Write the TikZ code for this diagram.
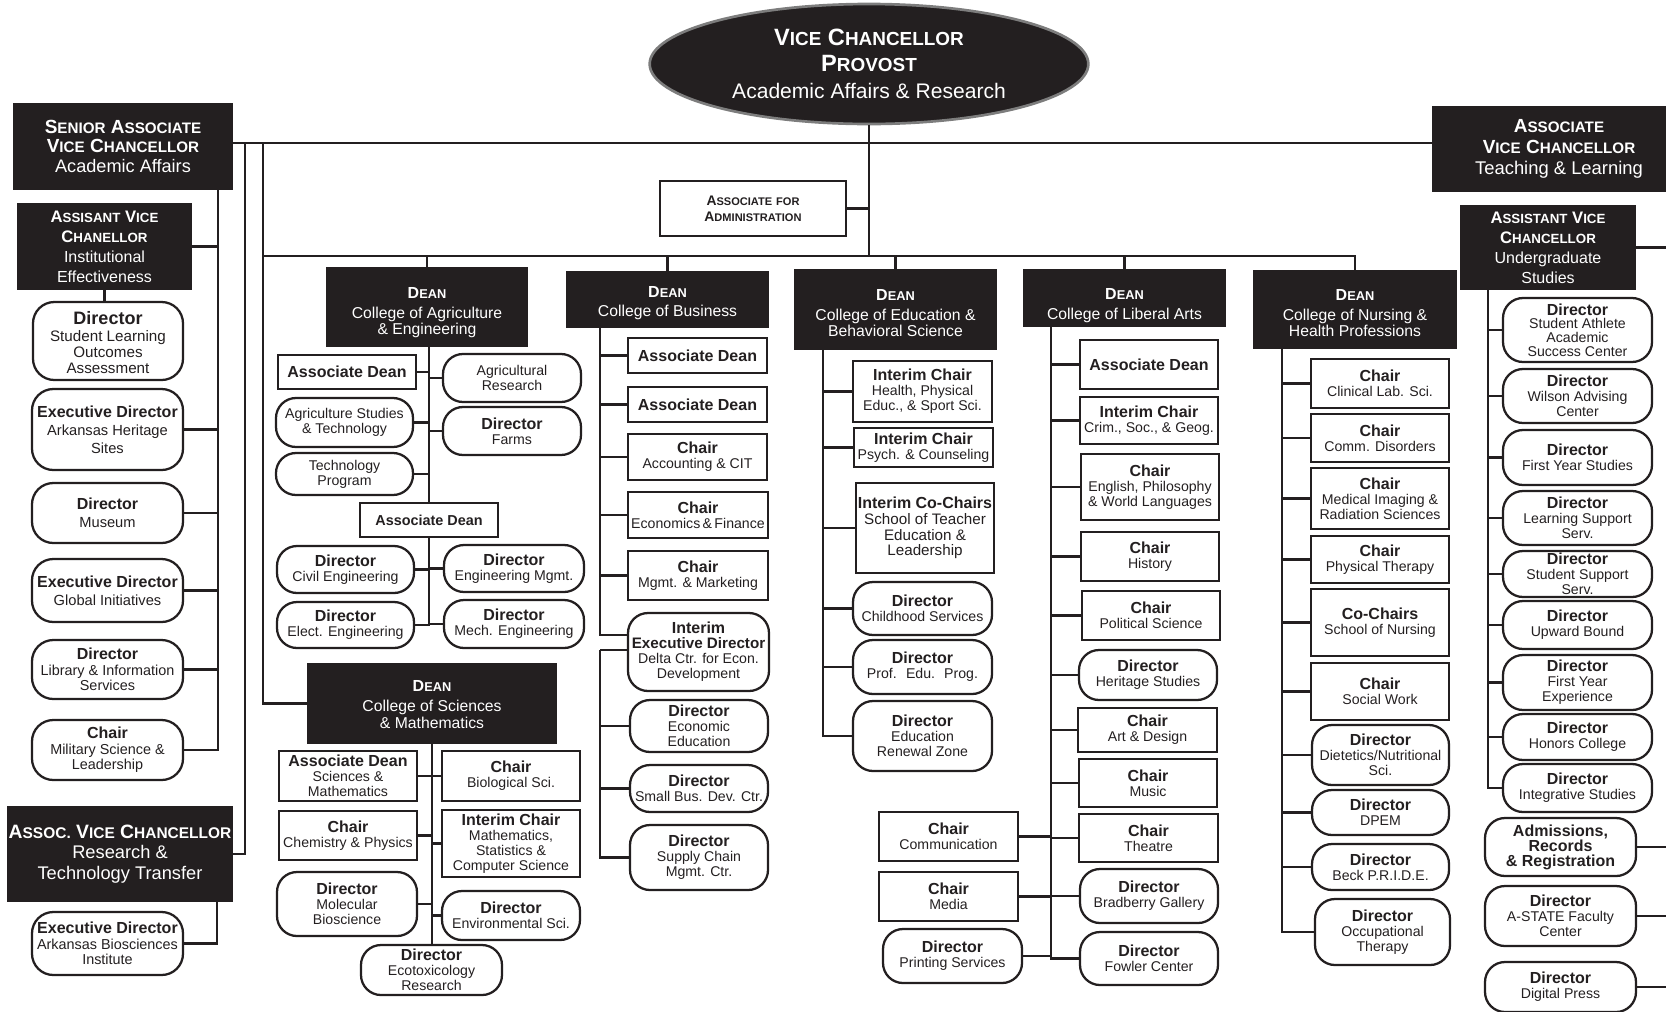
\documentclass[tikz,border=0pt]{standalone}
\usepackage{fontspec}
\setmainfont{Liberation Sans}
\usetikzlibrary{shapes.geometric,calc}
\definecolor{hdr}{RGB}{35,31,32}
\definecolor{rim}{RGB}{125,125,125}
\newcommand\SC[2]{#1{\fontsize{\scs}{\scs}\selectfont #2}}
\newcommand\hdrb[3]{{\bfseries\fontsize{#1}{#1}\selectfont\def\scs{#2}#3}}
\newcommand\ttl[1]{{\fontsize{12}{11.3}\selectfont\bfseries #1}}
\newcommand\deanl[1]{\rule{0pt}{#1pt}\hdrb{12}{9.6}{\SC{D}{EAN}}}
\newcommand\obox[7]{\pgfmathsetmacro\bxw{(#5-#3)*0.75}\pgfmathsetmacro\bxh{(#6-#4)*0.75}%
  \node[#1,minimum width=\bxw pt,minimum height=\bxh pt] (#2) at ({(#3+#5)/2},{(#4+#6)/2}) {#7};}
\tikzset{
  base/.style={draw=hdr, line width=1.7pt, align=center, inner sep=1pt, text=hdr, font=\fontsize{10.6}{11.3}\selectfont},
  rbox/.style={base, rounded corners=15pt},
  sbox/.style={base},
  lbox/.style={base, rounded corners=16pt, font=\fontsize{11}{13.5}\selectfont},
  hbox/.style={fill=hdr, draw=none, text=white, align=center, inner sep=1pt},
  dean/.style={hbox, font=\fontsize{11.8}{12.6}\selectfont},
  conn/.style={draw=hdr, line width=1.6pt},
}
\begin{document}
\begin{tikzpicture}[x=0.75pt,y=-0.75pt]
\useasboundingbox (0,0) rectangle (1666,1011);
% ---------- top ----------
\node[ellipse, fill=hdr, draw=rim, line width=2pt, minimum width=329pt, minimum height=90pt,
      text=white, align=center, inner sep=0pt, font=\fontsize{15.8}{19}\selectfont] (vc) at (869,64)
  {\hdrb{17.7}{14.2}{\SC{V}{ICE} \SC{C}{HANCELLOR}}\\\hdrb{17.7}{14.2}{\SC{P}{ROVOST}}\\[1.5pt]Academic Affairs \& Research};
\obox{sbox,line width=1.2pt}{adm}{660}{181}{846}{236}{\hdrb{10.4}{8.3}{\SC{A}{SSOCIATE} \SC{}{FOR}}\\[1pt]\hdrb{10.4}{8.3}{\SC{A}{DMINISTRATION}}}
% ---------- left column ----------
\obox{hbox,font=\fontsize{13.6}{14.3}\selectfont}{senior}{13}{103}{233}{190}{\hdrb{14.25}{11.4}{\SC{S}{ENIOR} \SC{A}{SSOCIATE}}\\\hdrb{14.25}{11.4}{\SC{V}{ICE} \SC{C}{HANCELLOR}}\\[1pt]Academic Affairs}
\obox{hbox,font=\fontsize{12}{15}\selectfont}{asst}{17}{203}{192}{290}{\hdrb{12.5}{10}{\SC{A}{SSISANT} \SC{V}{ICE}}\\\hdrb{12.5}{10}{\SC{C}{HANELLOR}}\\Institutional\\Effectiveness}
\obox{lbox,font=\fontsize{11.4}{12}\selectfont}{slo}{33}{302}{183}{380}{\rule{0pt}{12pt}{\fontsize{13.5}{12}\selectfont\bfseries Director}\\[1pt]Student Learning\\Outcomes\\Assessment}
\obox{lbox}{heritage}{32}{389}{183}{470}{\ttl{Executive Director}\\Arkansas Heritage\\Sites}
\obox{lbox}{museum}{32}{483}{183}{543}{\ttl{Director}\\Museum}
\obox{lbox}{global}{32}{559}{183}{622}{\ttl{Executive Director}\\Global Initiatives}
\obox{lbox,font=\fontsize{10.8}{11.5}\selectfont}{library}{32}{640}{183}{699}{\ttl{Director}\\Library \& Information\\Services}
\obox{lbox,font=\fontsize{10.8}{11.5}\selectfont}{military}{32}{720}{183}{780}{\ttl{Chair}\\Military Science \&\\Leadership}
\obox{hbox,font=\fontsize{13.7}{15.5}\selectfont}{arvc}{7}{806}{233}{902}{\hdrb{14.5}{11.6}{\SC{A}{SSOC.} \SC{V}{ICE} \SC{C}{HANCELLOR}}\\Research \&\\Technology Transfer}
\obox{lbox,font=\fontsize{10.8}{11.8}\selectfont}{abi}{32}{912}{183}{975}{\ttl{Executive Director}\\Arkansas Biosciences\\Institute}
% ---------- Agriculture ----------
\obox{dean}{ag}{326}{267}{528}{347}{\deanl{17}\\[2pt]College of Agriculture\\\& Engineering}
\obox{sbox}{agad1}{278}{355}{416}{389}{\ttl{Associate Dean}}
\obox{rbox}{agres}{443}{354}{581}{402}{Agricultural\\Research}
\obox{rbox}{agst}{276}{398}{413}{447}{Agriculture Studies\\\& Technology}
\obox{rbox}{farms}{443}{407}{581}{455}{\ttl{Director}\\Farms}
\obox{rbox}{techp}{276}{453}{413}{495}{Technology\\Program}
\obox{sbox}{agad2}{360}{503}{498}{537}{{\bfseries\fontsize{10.8}{11}\selectfont Associate Dean}}
\obox{rbox}{civil}{277}{546}{414}{593}{\ttl{Director}\\Civil Engineering}
\obox{rbox}{engm}{444}{545}{584}{592}{\ttl{Director}\\Engineering Mgmt.}
\obox{rbox}{elect}{277}{602}{414}{648}{\ttl{Director}\\Elect. Engineering}
\obox{rbox}{mech}{444}{600}{584}{648}{\ttl{Director}\\Mech. Engineering}
% ---------- Sciences ----------
\obox{dean}{sci}{307}{663}{557}{744}{\deanl{10}\\[2pt]College of Sciences\\\& Mathematics}
\obox{sbox}{sciad}{279}{751}{417}{801}{\ttl{Associate Dean}\\Sciences \&\\Mathematics}
\obox{sbox}{bio}{442}{751}{580}{801}{\ttl{Chair}\\Biological Sci.}
\obox{sbox}{chem}{279}{811}{417}{860}{\ttl{Chair}\\Chemistry \& Physics}
\obox{sbox}{math}{442}{810}{580}{877}{\ttl{Interim Chair}\\Mathematics,\\Statistics \&\\Computer Science}
\obox{rbox}{molec}{277}{872}{417}{936}{\ttl{Director}\\Molecular\\Bioscience}
\obox{rbox}{envir}{442}{891}{580}{940}{\ttl{Director}\\Environmental Sci.}
\obox{rbox}{ecotox}{361}{945}{502}{995}{\ttl{Director}\\Ecotoxicology\\Research}
% ---------- Business ----------
\obox{dean}{bus}{566}{271}{769}{328}{\deanl{14}\\[2pt]College of Business}
\obox{sbox}{bad1}{628}{338}{767}{373}{\ttl{Associate Dean}}
\obox{sbox}{bad2}{628}{387}{767}{422}{\ttl{Associate Dean}}
\obox{sbox}{acct}{628}{434}{767}{480}{\ttl{Chair}\\Accounting \& CIT}
\obox{sbox}{econ}{628}{492}{768}{538}{\ttl{Chair}\\Economics\,\&\,Finance}
\obox{sbox}{mgmt}{628}{551}{768}{600}{\ttl{Chair}\\Mgmt. \& Marketing}
\obox{rbox}{delta}{628}{613}{769}{691}{\ttl{Interim}\\{\fontsize{11.4}{11.3}\selectfont\bfseries Executive Director}\\Delta Ctr. for Econ.\\Development}
\obox{rbox}{econed}{630}{700}{768}{752}{\ttl{Director}\\Economic\\Education}
\obox{rbox}{sbdc}{630}{765}{768}{812}{\ttl{Director}\\Small Bus. Dev. Ctr.}
\obox{rbox}{scm}{630}{825}{768}{890}{\ttl{Director}\\Supply Chain\\Mgmt. Ctr.}
% ---------- Education ----------
\obox{dean}{edu}{794}{269}{997}{350}{\deanl{14}\\[2pt]College of Education \&\\Behavioral Science}
\obox{sbox}{hpe}{853}{361}{992}{422}{\ttl{Interim Chair}\\Health, Physical\\Educ., \& Sport Sci.}
\obox{sbox}{psych}{854}{428}{993}{467}{\ttl{Interim Chair}\\Psych. \& Counseling}
\obox{sbox,font=\fontsize{11.4}{11.8}\selectfont}{tel}{856}{483}{994}{573}{\ttl{Interim Co-Chairs}\\School of Teacher\\Education \&\\Leadership}
\obox{rbox}{childs}{853}{582}{992}{635}{\ttl{Director}\\Childhood Services}
\obox{rbox}{profedu}{853}{640}{992}{694}{\ttl{Director}\\Prof.~ Edu.~ Prog.}
\obox{rbox}{renew}{853}{701}{992}{771}{\ttl{Director}\\Education\\Renewal Zone}
% ---------- Liberal Arts ----------
\obox{dean}{la}{1023}{269}{1226}{327}{\deanl{20}\\[2pt]College of Liberal Arts}
\obox{sbox}{laad}{1080}{340}{1218}{389}{\ttl{Associate Dean}}
\obox{sbox}{crim}{1080}{397}{1218}{444}{\ttl{Interim Chair}\\Crim., Soc., \& Geog.}
\obox{sbox}{engl}{1081}{454}{1219}{520}{\ttl{Chair}\\English, Philosophy\\\& World Languages}
\obox{sbox}{hist}{1081}{532}{1219}{581}{\ttl{Chair}\\History}
\obox{sbox}{polsci}{1082}{591}{1220}{640}{\ttl{Chair}\\Political Science}
\obox{rbox}{herit}{1079}{650}{1217}{700}{\ttl{Director}\\Heritage Studies}
\obox{sbox}{art}{1078}{708}{1217}{752}{\ttl{Chair}\\Art \& Design}
\obox{sbox}{music}{1079}{759}{1217}{807}{\ttl{Chair}\\Music}
\obox{sbox}{theatre}{1079}{814}{1218}{862}{\ttl{Chair}\\Theatre}
\obox{rbox}{bradb}{1080}{869}{1218}{923}{\ttl{Director}\\Bradberry Gallery}
\obox{rbox}{fowler}{1080}{932}{1218}{985}{\ttl{Director}\\Fowler Center}
\obox{sbox}{comm}{879}{812}{1018}{861}{\ttl{Chair}\\Communication}
\obox{sbox}{media}{879}{872}{1018}{921}{\ttl{Chair}\\Media}
\obox{rbox}{printing}{883}{929}{1022}{983}{\ttl{Director}\\Printing Services}
% ---------- Nursing ----------
\obox{dean}{nurs}{1253}{270}{1457}{349}{\deanl{14}\\[2pt]College of Nursing \&\\Health Professions}
\obox{sbox}{clin}{1311}{359}{1449}{408}{\ttl{Chair}\\Clinical Lab. Sci.}
\obox{sbox}{commd}{1311}{414}{1449}{462}{\ttl{Chair}\\Comm. Disorders}
\obox{sbox}{medimg}{1311}{468}{1449}{529}{\ttl{Chair}\\Medical Imaging \&\\Radiation Sciences}
\obox{sbox}{pt}{1311}{536}{1449}{583}{\ttl{Chair}\\Physical Therapy}
\obox{sbox}{nursc}{1311}{589}{1449}{656}{\ttl{Co-Chairs}\\School of Nursing}
\obox{sbox}{socw}{1311}{663}{1449}{720}{\ttl{Chair}\\Social Work}
\obox{rbox}{diet}{1312}{725}{1449}{785}{\ttl{Director}\\Dietetics/Nutritional\\Sci.}
\obox{rbox}{dpem}{1312}{790}{1449}{835}{\ttl{Director}\\DPEM}
\obox{rbox}{beck}{1312}{844}{1449}{890}{\ttl{Director}\\Beck P.R.I.D.E.}
\obox{rbox}{ot}{1315}{899}{1450}{965}{\ttl{Director}\\Occupational\\Therapy}
% ---------- right column ----------
\obox{hbox,font=\fontsize{13.8}{15.5}\selectfont}{avc}{1432}{106}{1686}{192}{\hdrb{14.25}{11.4}{\SC{A}{SSOCIATE}}\\\hdrb{14.25}{11.4}{\SC{V}{ICE} \SC{C}{HANCELLOR}}\\Teaching \& Learning}
\obox{hbox,font=\fontsize{12}{15}\selectfont}{auvc}{1460}{205}{1636}{290}{\hdrb{12.5}{10}{\SC{A}{SSISTANT} \SC{V}{ICE}}\\\hdrb{12.5}{10}{\SC{C}{HANCELLOR}}\\Undergraduate\\Studies}
\obox{rbox,font=\fontsize{10.6}{10.2}\selectfont}{sa}{1503}{298}{1652}{362}{\ttl{Director}\\Student Athlete\\Academic\\Success Center}
\obox{rbox}{wilson}{1503}{369}{1652}{423}{\ttl{Director}\\Wilson Advising\\Center}
\obox{rbox}{fys}{1503}{430}{1652}{485}{\ttl{Director}\\First Year Studies}
\obox{rbox}{lss}{1503}{491}{1652}{545}{\ttl{Director}\\Learning Support\\Serv.}
\obox{rbox}{sss}{1503}{551}{1652}{597}{\ttl{Director}\\Student Support\\Serv.}
\obox{rbox}{upward}{1503}{601}{1652}{649}{\ttl{Director}\\Upward Bound}
\obox{rbox}{fye}{1503}{655}{1652}{710}{\ttl{Director}\\First Year\\Experience}
\obox{rbox}{honors}{1503}{714}{1652}{760}{\ttl{Director}\\Honors College}
\obox{rbox}{integ}{1503}{764}{1652}{812}{\ttl{Director}\\Integrative Studies}
\obox{rbox}{admis}{1485}{818}{1636}{876}{\ttl{Admissions,}\\\ttl{Records}\\\ttl{\& Registration}}
\obox{rbox}{afc}{1485}{886}{1636}{946}{\ttl{Director}\\A-STATE Faculty\\Center}
\obox{rbox}{dpress}{1485}{962}{1636}{1012}{\ttl{Director}\\Digital Press}
% ---------- connectors ----------
\coordinate (bus1) at (869,143);
\coordinate (bus2) at (869,256);
\coordinate (xa) at (218,0);
\coordinate (xb) at (245,0);
\coordinate (xc) at (263,0);
\coordinate (xd) at (217,0);
\coordinate (agx) at (429,0);
\coordinate (scx) at (432,0);
\coordinate (bx) at (600,0);
\coordinate (ex) at (823,0);
\coordinate (lx) at (1051,0);
\coordinate (nx) at (1282,0);
\coordinate (ux) at (1488,0);
\coordinate (redge) at (1666,0);
\draw[conn] (senior.east |- bus1) -- (avc.west |- bus1);
\draw[conn] (vc.south) -- (bus2);
\draw[conn] (adm.east) -- (adm.east -| bus2);
\draw[conn] (bus1 -| xc) |- (sci.west);
\draw[conn] (bus2 -| xc) -| (nurs.north);
\foreach \n in {ag,bus,edu,la} \draw[conn] (\n.north |- bus2) -- (\n.north);
\draw[conn] (bus1 -| xb) |- (arvc.east);
\foreach \n in {asst,heritage,museum,global,library,military} \draw[conn] (senior.south -| xa) |- (\n.east);
\draw[conn] (asst.south) -- (asst.south |- slo.north);
\draw[conn] (arvc.south -| xd) |- (abi.east);
% agriculture
\draw[conn] (ag.south -| agx) -- (agad2.north -| agx);
\foreach \n in {agres,farms} \draw[conn] (ag.south -| agx) |- (\n.west);
\foreach \n in {agad1,agst,techp} \draw[conn] (ag.south -| agx) |- (\n.east);
\foreach \n in {engm,mech} \draw[conn] (agad2.south -| agx) |- (\n.west);
\foreach \n in {civil,elect} \draw[conn] (agad2.south -| agx) |- (\n.east);
% sciences
\draw[conn] (sci.south -| scx) -- (ecotox.north -| scx);
\foreach \n in {bio,math,envir} \draw[conn] (sci.south -| scx) |- (\n.west);
\foreach \n in {sciad,chem,molec} \draw[conn] (sci.south -| scx) |- (\n.east);
% business
\foreach \n in {bad1,bad2,acct,econ,mgmt} \draw[conn] (bus.south -| bx) |- (\n.west);
\draw[conn] (bus.south -| bx) |- ($(delta.west)+(0,-17)$);
\coordinate (bsub) at ($(delta.west -| bx)+(0,-2)$);
\draw[conn] ($(delta.west)+(0,-2)$) -- (bsub);
\foreach \n in {econed,sbdc,scm} \draw[conn] (bsub) |- (\n.west);
% education
\foreach \n in {hpe,psych,tel,childs,profedu,renew} \draw[conn] (edu.south -| ex) |- (\n.west);
% liberal arts
\foreach \n in {laad,crim,engl,hist,polsci,herit,art,music,theatre,bradb,fowler} \draw[conn] (la.south -| lx) |- (\n.west);
\foreach \n in {comm,media,printing} \draw[conn] (la.south -| lx) |- (\n.east);
% nursing
\foreach \n in {clin,commd,medimg,pt,nursc,socw,diet,dpem,beck,ot} \draw[conn] (nurs.south -| nx) |- (\n.west);
% right
\draw[conn] (auvc.east) -- (auvc.east -| redge);
\foreach \n in {sa,wilson,fys,lss,sss,upward,fye,honors,integ} \draw[conn] (auvc.south -| ux) |- (\n.west);
\foreach \n in {admis,afc,dpress} \draw[conn] (\n.east) -- (\n.east -| redge);
\end{tikzpicture}
\end{document}
